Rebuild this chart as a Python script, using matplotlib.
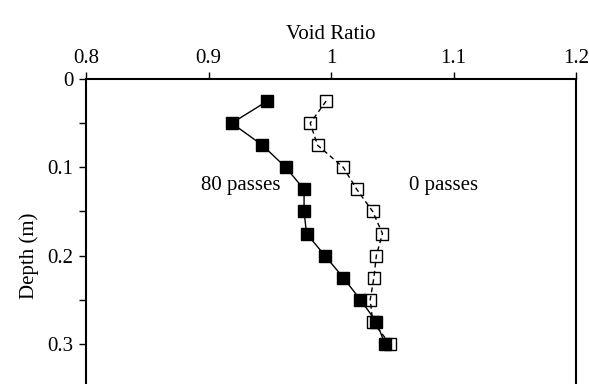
import matplotlib.pyplot as plt

# Depth profile of void ratio
depth = [0.025, 0.05, 0.075, 0.1, 0.125, 0.15, 0.175, 0.2, 0.225, 0.25, 0.275, 0.3]
void_80 = [0.948, 0.919, 0.944, 0.963, 0.978, 0.978, 0.980, 0.995, 1.010, 1.024, 1.037, 1.044]
void_0 = [0.996, 0.983, 0.989, 1.010, 1.021, 1.034, 1.042, 1.037, 1.035, 1.032, 1.034, 1.048]

x_ticks = [0.8, 0.9, 1.0, 1.1, 1.2]
x_labels = ["0.8", "0.9", "1", "1.1", "1.2"]
y_ticks = [0, 0.1, 0.2, 0.3]
y_labels = ["0", "0.1", "0.2", "0.3"]

plt.rcParams['font.family'] = ['Liberation Serif', 'DejaVu Serif']

fig = plt.figure(figsize=(5.89, 3.84), dpi=100)
ax = fig.add_axes([0.146, -0.1255, 0.832, 0.9198])

# 0 passes: white squares, dashed line drawn over them
ax.plot(void_0, depth, linestyle='none', marker='s', markersize=8,
        markerfacecolor='white', markeredgecolor='black', markeredgewidth=1, zorder=2)
ax.plot(void_0, depth, color='black', linestyle=(0, (3.5, 2.5)), linewidth=1, zorder=3)

# 80 passes: filled squares, solid line
ax.plot(void_80, depth, color='black', linewidth=1, marker='s', markersize=8.5,
        markerfacecolor='black', markeredgecolor='black', zorder=4)

ax.set_xlim(0.8, 1.2)
ax.set_ylim(0.4, 0)
ax.xaxis.tick_top()
ax.xaxis.set_label_position('top')
ax.set_xticks(x_ticks)
ax.set_xticklabels(x_labels)
ax.set_yticks(y_ticks)
ax.set_yticklabels(y_labels)
ax.set_yticks([0.05, 0.15, 0.25, 0.35], minor=True)

ax.tick_params(axis='both', which='both', direction='out', length=5, width=1,
               labelsize=15, colors='black')
ax.tick_params(axis='x', pad=3)
ax.tick_params(axis='y', pad=4)

ax.set_xlabel("Void Ratio", fontsize=15, labelpad=7)
ax.set_ylabel("Depth (m)", fontsize=15, labelpad=6)

for side in ['top', 'left', 'right']:
    ax.spines[side].set_linewidth(1.5)
ax.spines['bottom'].set_visible(False)

ax.text(0.926, 0.121, "80 passes", fontsize=15, ha='center', va='center')
ax.text(1.092, 0.121, "0 passes", fontsize=15, ha='center', va='center')

fig.savefig("out.png", dpi=100)
